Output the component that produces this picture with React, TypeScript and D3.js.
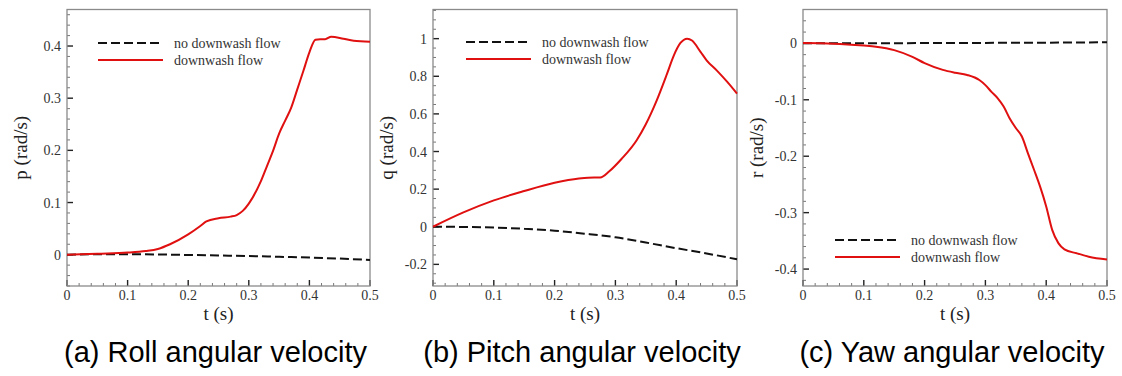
import React, { useRef, useEffect } from 'react';
import * as d3 from 'd3';

// time samples (s)
const tBase = [0, 0.05, 0.1, 0.15, 0.2, 0.25, 0.3, 0.35, 0.4, 0.45, 0.5];
const tRoll = [0, 0.05, 0.1, 0.13, 0.15, 0.17, 0.2, 0.22, 0.23, 0.25, 0.27, 0.28, 0.29, 0.3, 0.32, 0.33, 0.34, 0.35, 0.36, 0.37, 0.38, 0.39, 0.4, 0.41, 0.418, 0.426, 0.436, 0.456, 0.473, 0.5];
const tPitch = [0, 0.05, 0.1, 0.15, 0.2, 0.24, 0.255, 0.275, 0.29, 0.31, 0.335, 0.35, 0.368, 0.385, 0.396, 0.407, 0.418, 0.426, 0.44, 0.45, 0.467, 0.484, 0.5];
const tYaw = [0, 0.05, 0.1, 0.12, 0.15, 0.18, 0.2, 0.23, 0.25, 0.27, 0.29, 0.3, 0.31, 0.32, 0.33, 0.34, 0.35, 0.36, 0.37, 0.38, 0.39, 0.4, 0.41, 0.42, 0.43, 0.45, 0.47, 0.5];

// roll p (rad/s)
const pNoDownwash = [0, 0.001, 0.001, 0.0005, -0.0005, -0.0015, -0.0025, -0.004, -0.0055, -0.0075, -0.01];
const pDownwash = [0, 0.002, 0.004, 0.007, 0.011, 0.02, 0.039, 0.055, 0.064, 0.07, 0.073, 0.076, 0.084, 0.098, 0.141, 0.17, 0.199, 0.232, 0.257, 0.282, 0.317, 0.352, 0.388, 0.412, 0.413, 0.413, 0.418, 0.414, 0.41, 0.408];

// pitch q (rad/s)
const qNoDownwash = [0, -0.001, -0.004, -0.011, -0.021, -0.037, -0.056, -0.084, -0.114, -0.142, -0.173];
const qDownwash = [0, 0.076, 0.14, 0.19, 0.234, 0.257, 0.261, 0.262, 0.295, 0.36, 0.46, 0.545, 0.672, 0.814, 0.91, 0.977, 1.0, 0.99, 0.93, 0.885, 0.83, 0.77, 0.708];

// yaw r (rad/s)
const rNoDownwash = [0, 0, 0, 0.0002, 0.0005, 0.0006, 0.0008, 0.001, 0.0012, 0.0015, 0.002];
const rDownwash = [0.0005, -0.0005, -0.004, -0.006, -0.012, -0.024, -0.035, -0.047, -0.052, -0.056, -0.065, -0.074, -0.086, -0.097, -0.112, -0.133, -0.15, -0.165, -0.195, -0.224, -0.254, -0.289, -0.331, -0.354, -0.365, -0.372, -0.378, -0.383];

const xTicks = [0, 0.1, 0.2, 0.3, 0.4, 0.5];
const pTicks = [0, 0.1, 0.2, 0.3, 0.4];
const qTicks = [-0.2, 0, 0.2, 0.4, 0.6, 0.8, 1];
const rTicks = [-0.4, -0.3, -0.2, -0.1, 0];

const legendLabels = ['no downwash flow', 'downwash flow'];
const captions = ['(a) Roll angular velocity', '(b) Pitch angular velocity', '(c) Yaw angular velocity'];

const panels = [
  { left: 67, right: 370, domain: [-0.06, 0.47], ticks: pTicks, minor: 0.02, yLabel: 'p (rad/s)', tDown: tRoll, down: pDownwash, noDown: pNoDownwash, legendY: 43, legendX: 98, caption: captions[0] },
  { left: 433, right: 737, domain: [-0.315, 1.155], ticks: qTicks, minor: 0.05, yLabel: 'q (rad/s)', tDown: tPitch, down: qDownwash, noDown: qNoDownwash, legendY: 42, legendX: 466, caption: captions[1] },
  { left: 803, right: 1107, domain: [-0.43, 0.06], ticks: rTicks, minor: 0.02, yLabel: 'r (rad/s)', tDown: tYaw, down: rDownwash, noDown: rNoDownwash, legendY: 240, legendX: 835, caption: captions[2] },
];

const TOP = 9.5;
const BOTTOM = 286;
const serif = '"Liberation Serif", "Times New Roman", serif';

const fmt = (v) => String(+v.toFixed(2));

const App = () => {
  const svgRef = useRef(null);

  useEffect(() => {
    const svg = d3.select(svgRef.current);
    svg.selectAll('*').remove();

    panels.forEach((p) => {
      const x = d3.scaleLinear().domain([0, 0.5]).range([p.left, p.right]);
      const y = d3.scaleLinear().domain(p.domain).range([BOTTOM, TOP]);
      const g = svg.append('g');

      // minor ticks
      const xMinor = d3.range(0, 0.5001, 0.02).filter(v => Math.abs(v * 10 - Math.round(v * 10)) > 1e-6);
      g.selectAll('.xm').data(xMinor).enter().append('line')
        .attr('x1', d => x(d)).attr('x2', d => x(d))
        .attr('y1', BOTTOM).attr('y2', BOTTOM - 3)
        .attr('stroke', '#777').attr('stroke-width', 1);
      const start = Math.ceil(p.domain[0] / p.minor) * p.minor;
      const yMinor = d3.range(start, p.domain[1], p.minor)
        .filter(v => !p.ticks.some(t => Math.abs(t - v) < 1e-6));
      g.selectAll('.ym').data(yMinor).enter().append('line')
        .attr('x1', p.left).attr('x2', p.left + 3)
        .attr('y1', d => y(d)).attr('y2', d => y(d))
        .attr('stroke', '#777').attr('stroke-width', 1);

      // major ticks
      g.selectAll('.xM').data(xTicks).enter().append('line')
        .attr('x1', d => x(d)).attr('x2', d => x(d))
        .attr('y1', BOTTOM).attr('y2', BOTTOM - 6)
        .attr('stroke', '#222').attr('stroke-width', 1.4);
      g.selectAll('.yM').data(p.ticks).enter().append('line')
        .attr('x1', p.left).attr('x2', p.left + 6)
        .attr('y1', d => y(d)).attr('y2', d => y(d))
        .attr('stroke', '#222').attr('stroke-width', 1.4);

      // frame
      g.append('rect')
        .attr('x', p.left).attr('y', TOP)
        .attr('width', p.right - p.left).attr('height', BOTTOM - TOP)
        .attr('fill', 'none').attr('stroke', '#8a8a8a').attr('stroke-width', 1.3);

      // tick labels
      g.selectAll('.xl').data(xTicks).enter().append('text')
        .attr('x', d => x(d)).attr('y', BOTTOM + 14)
        .attr('text-anchor', 'middle')
        .attr('font-family', serif).attr('font-size', 14).attr('fill', '#333')
        .text(fmt);
      g.selectAll('.yl').data(p.ticks).enter().append('text')
        .attr('x', p.left - 6).attr('y', d => y(d) + 5)
        .attr('text-anchor', 'end')
        .attr('font-family', serif).attr('font-size', 14).attr('fill', '#333')
        .text(fmt);

      // axis titles
      g.append('text')
        .attr('x', (p.left + p.right) / 2).attr('y', BOTTOM + 34)
        .attr('text-anchor', 'middle')
        .attr('font-family', serif).attr('font-size', 19).attr('fill', '#222')
        .text('t (s)');
      g.append('text')
        .attr('transform', `translate(${p.left - 40},${(TOP + BOTTOM) / 2})`+' rotate(-90)')
        .attr('text-anchor', 'middle')
        .attr('font-family', serif).attr('font-size', 19).attr('fill', '#222')
        .text(p.yLabel);

      // series
      const line = d3.line().x(d => x(d[0])).y(d => y(d[1])).curve(d3.curveMonotoneX);
      g.append('path')
        .attr('d', line(d3.zip(tBase, p.noDown)))
        .attr('fill', 'none').attr('stroke', '#111').attr('stroke-width', 2)
        .attr('stroke-dasharray', '9,4');
      g.append('path')
        .attr('d', line(d3.zip(p.tDown, p.down)))
        .attr('fill', 'none').attr('stroke', '#e01010').attr('stroke-width', 2);

      // legend
      const lg = g.append('g').attr('transform', `translate(${p.legendX},${p.legendY})`);
      lg.append('line').attr('x1', 0).attr('x2', 65).attr('y1', 0).attr('y2', 0)
        .attr('stroke', '#111').attr('stroke-width', 2).attr('stroke-dasharray', '9,4');
      lg.append('line').attr('x1', 0).attr('x2', 65).attr('y1', 17).attr('y2', 17)
        .attr('stroke', '#e01010').attr('stroke-width', 2);
      lg.selectAll('text').data(legendLabels).enter().append('text')
        .attr('x', 76).attr('y', (d, i) => i * 17 + 5)
        .attr('font-family', serif).attr('font-size', 14).attr('fill', '#333')
        .text(d => d);

      // caption
      g.append('text')
        .attr('x', (p.left + p.right) / 2 - 3).attr('y', 362)
        .attr('text-anchor', 'middle')
        .attr('font-family', '"Liberation Sans", Arial, sans-serif').attr('font-size', 29).attr('fill', '#000')
        .text(p.caption);
    });
  }, []);

  return (
    <svg ref={svgRef} width={1122} height={376}
      style={{ position: 'absolute', left: 0, top: 0, background: '#fff' }} />
  );
};

export default App;
